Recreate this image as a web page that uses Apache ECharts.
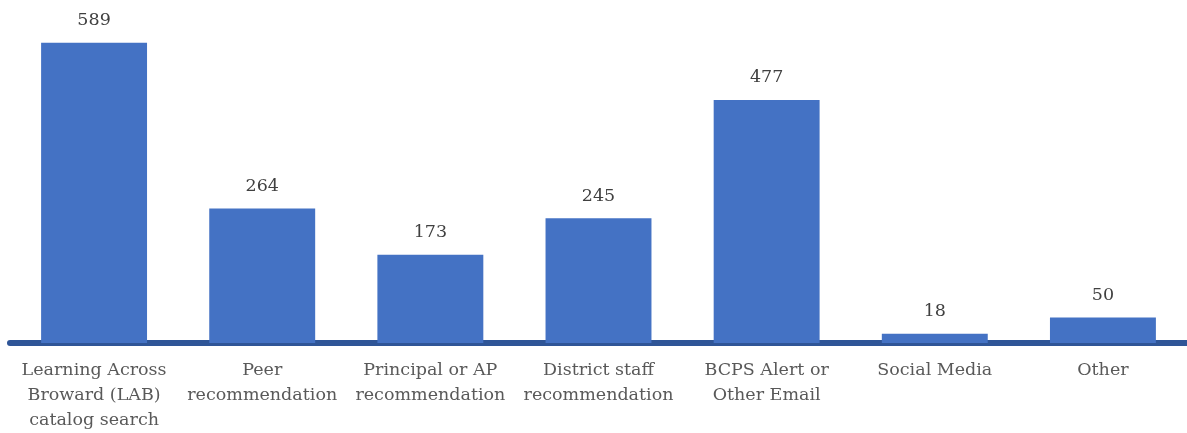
<!DOCTYPE html>
<html>
<head>
<meta charset="utf-8">
<script src="https://cdn.jsdelivr.net/npm/echarts@6/dist/echarts.min.js"></script>
<style>
  html, body { margin: 0; padding: 0; background: #fff; }
  #chart { width: 1187px; height: 433px; }
</style>
</head>
<body>
<div id="chart"></div>
<script>
// 数据
const categories = [
  'Learning Across\nBroward (LAB)\ncatalog search',
  'Peer\nrecommendation',
  'Principal or AP\nrecommendation',
  'District staff\nrecommendation',
  'BCPS Alert or\nOther Email',
  'Social Media',
  'Other'
]
const counts = [589, 264, 173, 245, 477, 18, 50]

const chart = echarts.init(document.getElementById('chart'))
chart.setOption({
  animation: false,
  backgroundColor: '#fff',
  grid: { left: 10, right: 0, top: 0, bottom: 80 },
  xAxis: {
    type: 'category',
    data: categories,
    axisLine: { show: true, lineStyle: { color: '#2f5597', width: 6 } },
    axisTick: { show: false },
    axisLabel: {
      interval: 0,
      margin: 15,
      color: '#595959',
      fontFamily: 'DejaVu Serif',
      fontSize: 17.5,
      lineHeight: 25
    }
  },
  yAxis: {
    type: 'value',
    min: 0,
    max: 673,
    show: false,
    splitLine: { show: false }
  },
  series: [
    {
      type: 'bar',
      data: counts,
      barWidth: '63%', // 柱宽
      itemStyle: { color: '#4472c4' },
      label: {
        show: true,
        position: 'top',
        distance: 13,
        color: '#404040',
        fontFamily: 'DejaVu Serif',
        fontSize: 17.5
      }
    }
  ]
})
</script>
</body>
</html>
